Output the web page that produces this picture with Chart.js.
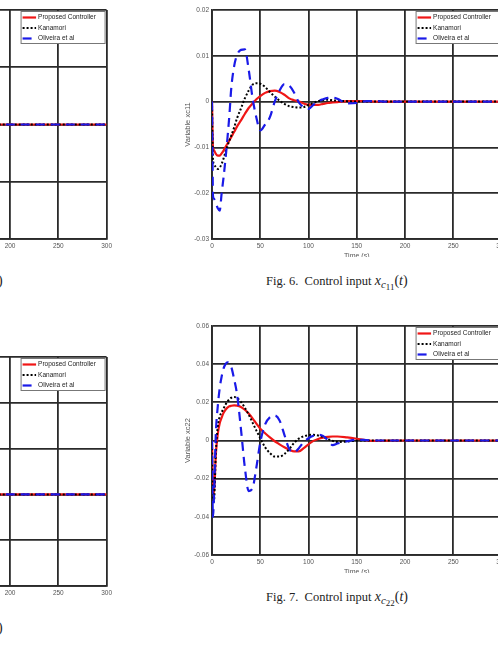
<!DOCTYPE html>
<html>
<head>
<meta charset="utf-8">
<script src="https://cdn.jsdelivr.net/npm/chart.js@4.4.1/dist/chart.umd.min.js"></script>
<style>
  html, body { margin: 0; padding: 0; background: #fff; }
  body { width: 498px; height: 646px; position: relative; overflow: hidden; }
  .panel { position: absolute; overflow: hidden; }
  .panel canvas { display: block; }
  .caption {
    position: absolute; white-space: nowrap; line-height: 1; color: #222;
    font-family: 'Liberation Serif', 'Times New Roman', serif; font-size: 12.5px;
  }
  .caption .math { font-size: 14px; }
  .caption sub { font-size: 78%; vertical-align: -0.3em; line-height: 0; }
  .caption sub sub { font-size: 82%; vertical-align: -0.25em; }
</style>
</head>
<body>

<div class="panel" style="left:-235px; top:0; width:350px; height:264px;"><canvas id="leftTop" width="350" height="264"></canvas></div>
<div class="panel" style="left:160px; top:0; width:350px; height:257px;"><canvas id="fig6" width="350" height="264"></canvas></div>
<div class="panel" style="left:-235px; top:347px; width:350px; height:264px;"><canvas id="leftBottom" width="350" height="264"></canvas></div>
<div class="panel" style="left:160px; top:316px; width:350px; height:257px;"><canvas id="fig7" width="350" height="264"></canvas></div>

<div class="caption" style="left:-2px; top:274px;"><span class="math">)</span></div>
<div class="caption" style="left:266px; top:274px;">Fig. 6.&nbsp; Control input <span class="math"><i>x</i><sub><i>c</i><sub>11</sub></sub>(<i>t</i>)</span></div>
<div class="caption" style="left:-2px; top:621px;"><span class="math">)</span></div>
<div class="caption" style="left:266px; top:590px;">Fig. 7.&nbsp; Control input <span class="math"><i>x</i><sub><i>c</i><sub>22</sub></sub>(<i>t</i>)</span></div>

<script>
// ---- data ----
const seriesNames = ['Proposed Controller', 'Kanamori', 'Oliveira et al'];
const timeTicks = [0, 50, 100, 150, 200, 250, 300];

const timeGrid = [0, 0.5, 1, 2, 4, 6, 8, 10, 12, 14, 16, 18, 20, 23, 26, 30, 34, 38, 42, 46,
  50, 55, 60, 65, 70, 75, 80, 85, 90, 95, 100, 105, 110, 115, 120, 125, 130, 140, 150, 160,
  170, 180, 200, 250, 300];

// Fig. 6, x_c11
const xc11Ticks = [-0.03, -0.02, -0.01, 0, 0.01, 0.02];
const xc11Proposed = [0, -0.0065, -0.0100, -0.0106, -0.0114, -0.0118, -0.0118, -0.0113, -0.0107, -0.0099,
  -0.0092, -0.0085, -0.0077, -0.0066, -0.0054, -0.0041, -0.0027, -0.0014, -0.0004, 0.0005,
  0.0012, 0.0019, 0.0023, 0.0024, 0.0021, 0.0015, 0.0007, 0.0003, 0.0000, -0.0004,
  -0.0007, -0.0007, -0.0007, -0.0005, -0.0003, -0.0002, -0.0001, 0.0001, 0.0001, 0.0001,
  0, 0, 0, 0, 0];
const xc11Kanamori = [0, -0.0075, -0.0125, -0.0136, -0.0143, -0.0147, -0.0144, -0.0136, -0.0124, -0.0110,
  -0.0097, -0.0085, -0.0074, -0.0056, -0.0036, -0.0015, 0.0007, 0.0024, 0.0037, 0.0040,
  0.0039, 0.0032, 0.0021, 0.0011, 0.0002, -0.0005, -0.0010, -0.0012, -0.0013, -0.0012,
  -0.0007, -0.0003, 0.0001, 0.0003, 0.0004, 0.0003, 0.0002, 0.0001, 0, 0,
  0, 0, 0, 0, 0];
const xc11Oliveira = [0, -0.0120, -0.0205, -0.0212, -0.0222, -0.0233, -0.0238, -0.0200, -0.0165, -0.0125,
  -0.0080, -0.0030, 0.0030, 0.0078, 0.0102, 0.0113, 0.0114, 0.0070, 0.0008, -0.0035,
  -0.0063, -0.0050, -0.0034, 0.0000, 0.0024, 0.0038, 0.0035, 0.0020, -0.0002, -0.0012,
  -0.0016, -0.0007, 0.0001, 0.0005, 0.0008, 0.0009, 0.0006, -0.0004, -0.0003, 0.0001,
  0.0001, 0, 0, 0, 0];

// Fig. 7, x_c22
const xc22Ticks = [-0.06, -0.04, -0.02, 0, 0.02, 0.04, 0.06];
const xc22Proposed = [0, -0.018, -0.027, -0.028, -0.007, 0.0035, 0.0090, 0.0120, 0.0145, 0.0161,
  0.0172, 0.0179, 0.0182, 0.0184, 0.0183, 0.0176, 0.0161, 0.0141, 0.0116, 0.0088,
  0.0062, 0.0038, 0.0016, -0.0004, -0.0020, -0.0035, -0.0048, -0.0057, -0.0057, -0.0040,
  -0.0020, -0.0002, 0.0008, 0.0015, 0.0019, 0.0021, 0.0021, 0.0016, 0.0009, 0.0001,
  -0.0002, -0.0001, 0, 0, 0];
const xc22Kanamori = [0, -0.020, -0.031, -0.032, -0.006, 0.0075, 0.0125, 0.0148, 0.0168, 0.0188,
  0.0204, 0.0216, 0.0224, 0.0228, 0.0222, 0.0203, 0.0172, 0.0136, 0.0094, 0.0052,
  0.0012, -0.0035, -0.0066, -0.0084, -0.0084, -0.0071, -0.0045, -0.0013, 0.0010, 0.0022,
  0.0028, 0.0030, 0.0026, 0.0018, 0.0008, -0.0002, -0.0008, -0.0005, -0.0001, 0,
  0, 0, 0, 0, 0];
const xc22Oliveira = [0, -0.028, -0.040, -0.030, 0.004, 0.018, 0.0275, 0.0335, 0.0378, 0.0400,
  0.0410, 0.0405, 0.0385, 0.0320, 0.0240, 0.0060, -0.0140, -0.0265, -0.0250, -0.0140,
  -0.0010, 0.0085, 0.0122, 0.0131, 0.0105, 0.0030, -0.0045, -0.0062, -0.0040, -0.0008,
  0.0012, 0.0025, 0.0031, 0.0024, 0.0002, -0.0024, -0.0016, -0.0004, 0.0004, 0.0002,
  0, 0, 0, 0, 0];

// left column panels (only their settled tails are on the page)
const leftTime = [180, 200, 250, 300];
const leftTopTicks = [-0.02, -0.01, 0, 0.01, 0.02];
const leftTopProposed = [0, 0, 0, 0];
const leftTopKanamori = [0, 0, 0, 0];
const leftTopOliveira = [0, 0, 0, 0];
const leftBottomTicks = [-0.04, -0.02, 0, 0.02, 0.04, 0.06];
const leftBottomProposed = [0, 0, 0, 0];
const leftBottomKanamori = [0, 0, 0, 0];
const leftBottomOliveira = [0, 0, 0, 0];

// ---- styling ----
const FONT = "'Liberation Sans', Arial, Helvetica, sans-serif";
const GRID = '#2a2a2a';
const lineStyles = [
  { borderColor: '#f01616', borderWidth: 2.2, borderDash: [], order: 3 },
  { borderColor: '#000000', borderWidth: 2, borderDash: [2, 2], order: 2 },
  { borderColor: '#1a1ae8', borderWidth: 2.2, borderDash: [9, 6], order: 1 }
];

// legend box drawn inside the plot, upper right corner
const insideLegend = {
  id: 'insideLegend',
  afterDraw(chart) {
    const { ctx, chartArea } = chart;
    const x0 = chartArea.right - 86, y0 = chartArea.top + 1;
    ctx.save();
    ctx.fillStyle = '#fff';
    ctx.fillRect(x0, y0, 84, 32);
    ctx.strokeStyle = '#777';
    ctx.lineWidth = 1;
    ctx.strokeRect(x0 + 0.5, y0 + 0.5, 84, 32);
    ctx.font = '6.5px ' + FONT;
    ctx.textBaseline = 'middle';
    // legend rows follow seriesNames order, not draw order
    const sets = chart.data.datasets.slice().sort((a, b) => b.order - a.order);
    sets.forEach((ds, i) => {
      const y = y0 + 6.5 + i * 10.5;
      ctx.strokeStyle = ds.borderColor;
      ctx.lineWidth = ds.borderWidth;
      ctx.setLineDash(ds.borderDash);
      ctx.beginPath();
      ctx.moveTo(x0 + 2, y);
      ctx.lineTo(x0 + 15.5, y);
      ctx.stroke();
      ctx.setLineDash([]);
      ctx.fillStyle = '#222';
      ctx.fillText(ds.label, x0 + 17.5, y);
    });
    ctx.restore();
  }
};

function makePanel(id, time, series, yTicks, yTitle) {
  const datasets = series.map((vals, i) => ({
    label: seriesNames[i],
    data: time.map((t, k) => ({ x: t, y: vals[k] })),
    ...lineStyles[i],
    pointRadius: 0,
    fill: false,
    cubicInterpolationMode: 'monotone'
  }));

  new Chart(document.getElementById(id), {
    type: 'line',
    data: { datasets },
    plugins: [insideLegend],
    options: {
      responsive: false,
      animation: false,
      layout: { padding: { left: 19.8, right: 7.5, top: 10, bottom: 0 } },
      plugins: { legend: { display: false }, tooltip: { enabled: false } },
      scales: {
        x: {
          type: 'linear',
          min: timeTicks[0],
          max: timeTicks[timeTicks.length - 1],
          afterBuildTicks: s => { s.ticks = timeTicks.map(v => ({ value: v })); },
          afterFit: s => { s.height = 25; },
          ticks: { padding: 3, color: '#555', font: { family: FONT, size: 6.5 }, maxRotation: 0, autoSkip: false },
          grid: { color: GRID, lineWidth: 1.8, drawTicks: false },
          border: { color: GRID, width: 1.8 },
          title: { display: true, text: 'Time (s)', color: '#555', font: { family: FONT, size: 7 } }
        },
        y: {
          min: yTicks[0],
          max: yTicks[yTicks.length - 1],
          afterBuildTicks: s => { s.ticks = yTicks.map(v => ({ value: v })); },
          afterFit: s => { s.width = 32.2; },
          ticks: {
            padding: 3, color: '#555', font: { family: FONT, size: 6.5 },
            callback: v => String(+v.toFixed(2))
          },
          grid: { color: GRID, lineWidth: 1.8, drawTicks: false },
          border: { color: GRID, width: 1.8 },
          title: { display: true, text: yTitle, color: '#555', font: { family: FONT, size: 7.5 } }
        }
      }
    }
  });
}

makePanel('leftTop', leftTime, [leftTopProposed, leftTopKanamori, leftTopOliveira], leftTopTicks, 'Variable xc12');
makePanel('fig6', timeGrid, [xc11Proposed, xc11Kanamori, xc11Oliveira], xc11Ticks, 'Variable xc11');
makePanel('leftBottom', leftTime, [leftBottomProposed, leftBottomKanamori, leftBottomOliveira], leftBottomTicks, 'Variable xc21');
makePanel('fig7', timeGrid, [xc22Proposed, xc22Kanamori, xc22Oliveira], xc22Ticks, 'Variable xc22');
</script>
</body>
</html>
